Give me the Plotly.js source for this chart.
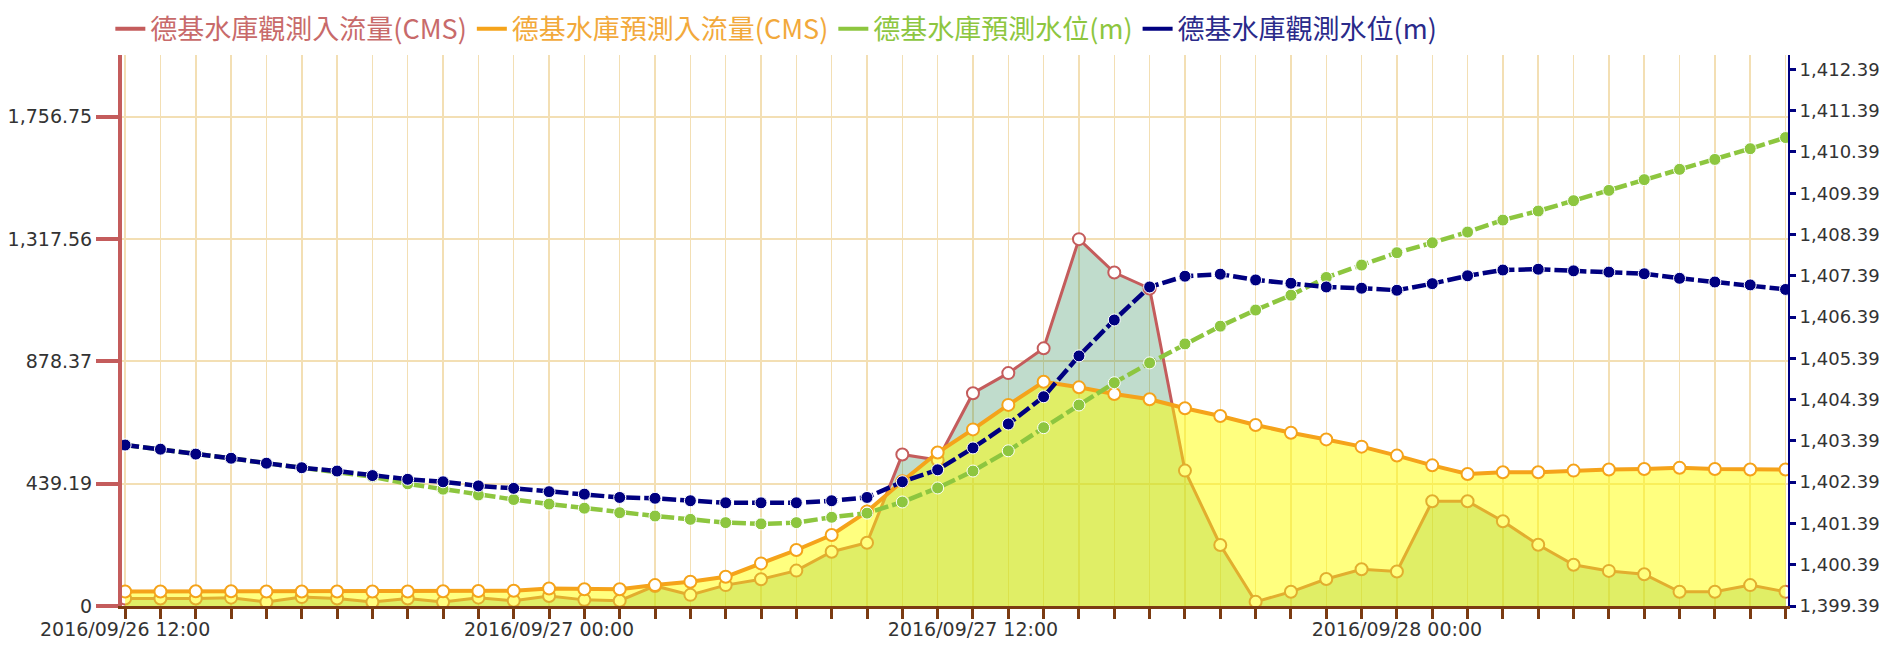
<!DOCTYPE html>
<html>
<head>
<meta charset="utf-8">
<script src="https://cdn.plot.ly/plotly-3.0.1.min.js"></script>
<style>
html,body{margin:0;padding:0;background:#ffffff;}
#chart{width:1880px;height:651px;}
</style>
</head>
<body>
<div id="chart"></div>
<script>
// Hourly time stamps (category axis)
const times = [
  '2016-09-26 12:00','2016-09-26 13:00','2016-09-26 14:00','2016-09-26 15:00','2016-09-26 16:00','2016-09-26 17:00',
  '2016-09-26 18:00','2016-09-26 19:00','2016-09-26 20:00','2016-09-26 21:00','2016-09-26 22:00','2016-09-26 23:00',
  '2016-09-27 00:00','2016-09-27 01:00','2016-09-27 02:00','2016-09-27 03:00','2016-09-27 04:00','2016-09-27 05:00',
  '2016-09-27 06:00','2016-09-27 07:00','2016-09-27 08:00','2016-09-27 09:00','2016-09-27 10:00','2016-09-27 11:00',
  '2016-09-27 12:00','2016-09-27 13:00','2016-09-27 14:00','2016-09-27 15:00','2016-09-27 16:00','2016-09-27 17:00',
  '2016-09-27 18:00','2016-09-27 19:00','2016-09-27 20:00','2016-09-27 21:00','2016-09-27 22:00','2016-09-27 23:00',
  '2016-09-28 00:00','2016-09-28 01:00','2016-09-28 02:00','2016-09-28 03:00','2016-09-28 04:00','2016-09-28 05:00',
  '2016-09-28 06:00','2016-09-28 07:00','2016-09-28 08:00','2016-09-28 09:00','2016-09-28 10:00','2016-09-28 11:00'
];

// 德基水庫觀測入流量 (CMS)
const observedInflow = [
  27, 27, 27, 30, 14, 32, 27, 14, 27, 14, 30,
  19, 36, 22, 19, 72, 40, 75, 96, 127, 195, 227,
  544, 524, 764, 836, 925, 1317, 1197, 1140, 486, 219, 15, 51, 97, 132,
  124, 376, 376, 304, 220, 148, 126, 114, 51, 51, 75, 51
];

// 德基水庫預測入流量 (CMS)
const predictedInflow = [
  52, 52, 53, 53, 52, 52, 52, 52, 52, 53, 54,
  55, 63, 60, 60, 75, 87, 105, 153, 201, 255, 339,
  448, 551, 634, 722, 805, 785, 761, 742, 710, 682, 650, 622, 598, 572,
  540, 505, 474, 480, 480, 486, 490, 492, 496, 492, 490, 490
];

// 德基水庫預測水位 (m)
const predictedLevel = [
  1403.29, 1403.19, 1403.07, 1402.97, 1402.85, 1402.74, 1402.65, 1402.52,
  1402.35, 1402.22, 1402.08,
  1401.97, 1401.86, 1401.76, 1401.65, 1401.57, 1401.49, 1401.41, 1401.38, 1401.41, 1401.54, 1401.64, 1401.91, 1402.25, 1402.66,
  1403.15, 1403.71, 1404.26, 1404.80, 1405.28, 1405.74, 1406.17, 1406.56, 1406.92, 1407.35, 1407.65,
  1407.95, 1408.19, 1408.45, 1408.74, 1408.96, 1409.21, 1409.46, 1409.72, 1409.97, 1410.21, 1410.47, 1410.74
];

// 德基水庫觀測水位 (m)
const observedLevel = [
  1403.29, 1403.19, 1403.07, 1402.97, 1402.85, 1402.74, 1402.66, 1402.55, 1402.46, 1402.40, 1402.30,
  1402.24, 1402.16, 1402.10, 1402.02, 1402.00, 1401.94, 1401.89, 1401.89, 1401.89, 1401.94, 1402.02, 1402.40, 1402.69, 1403.22,
  1403.80, 1404.46, 1405.45, 1406.32, 1407.12, 1407.38, 1407.43, 1407.29, 1407.21, 1407.12, 1407.09,
  1407.04, 1407.20, 1407.39, 1407.53, 1407.55, 1407.51, 1407.48, 1407.44, 1407.33, 1407.24, 1407.17, 1407.06
];

const inflowTicks = [0, 439.19, 878.37, 1317.56, 1756.75];
const inflowTickText = ['0', '439.19', '878.37', '1,317.56', '1,756.75'];
const levelTicks = [1399.39, 1400.39, 1401.39, 1402.39, 1403.39, 1404.39, 1405.39,
                    1406.39, 1407.39, 1408.39, 1409.39, 1410.39, 1411.39, 1412.39];
const levelTickText = ['1,399.39', '1,400.39', '1,401.39', '1,402.39', '1,403.39', '1,404.39', '1,405.39',
                       '1,406.39', '1,407.39', '1,408.39', '1,409.39', '1,410.39', '1,411.39', '1,412.39'];

const seriesNames = ['德基水庫觀測入流量(CMS)', '德基水庫預測入流量(CMS)', '德基水庫預測水位(m)', '德基水庫觀測水位(m)'];

const RED = '#c45c5c';
const ORANGE = '#f5a31a';
const GREEN = '#8dc63f';
const NAVY = '#000080';
const BROWN = '#7b3b12';
const GRID = '#f3dfb4';
const legendColors = ['#c86a6a', '#f2a93b', '#8dc63f', '#2a2a8a'];

const traces = [
  {
    x: times, y: observedInflow, yaxis: 'y', type: 'scatter', mode: 'lines+markers',
    fill: 'tozeroy', fillcolor: 'rgba(46,139,87,0.30)',
    line: {color: RED, width: 3},
    marker: {symbol: 'circle', size: 12, color: '#ffffff', line: {color: RED, width: 2}},
    showlegend: false, name: seriesNames[0]
  },
  {
    x: times, y: predictedInflow, yaxis: 'y', type: 'scatter', mode: 'lines+markers',
    fill: 'tozeroy', fillcolor: 'rgba(255,255,0,0.50)',
    line: {color: ORANGE, width: 4},
    marker: {symbol: 'circle', size: 12, color: '#ffffff', line: {color: ORANGE, width: 2}},
    showlegend: false, name: seriesNames[1]
  },
  {
    x: times, y: predictedLevel, yaxis: 'y2', type: 'scatter', mode: 'lines+markers',
    line: {color: GREEN, width: 4.5, dash: '14px,4px'},
    marker: {symbol: 'circle', size: 12, color: GREEN, line: {color: '#ffffff', width: 1}},
    showlegend: false, name: seriesNames[2]
  },
  {
    x: times, y: observedLevel, yaxis: 'y2', type: 'scatter', mode: 'lines+markers',
    line: {color: NAVY, width: 4.5, dash: '14px,4px'},
    marker: {symbol: 'circle', size: 12, color: NAVY, line: {color: '#ffffff', width: 1}},
    showlegend: false, name: seriesNames[3]
  }
];

// legend-only entries (short line symbol, coloured text)
const lineColors = [RED, ORANGE, GREEN, NAVY];
seriesNames.forEach((n, k) => {
  traces.push({
    x: [null], y: [null], type: 'scatter', mode: 'lines',
    line: {color: lineColors[k], width: 4},
    name: '<span style="color:' + legendColors[k] + '">' + n + '</span>',
    showlegend: true, hoverinfo: 'skip'
  });
});

const tickFont = {family: 'DejaVu Sans, Verdana, sans-serif', size: 19, color: '#333333'};
const rightTickFont = {family: 'DejaVu Sans, Verdana, sans-serif', size: 18, color: '#333333'};

const layout = {
  width: 1880, height: 651,
  margin: {l: 122, r: 92, t: 55, b: 45, pad: 0, autoexpand: false},
  paper_bgcolor: '#ffffff', plot_bgcolor: '#ffffff',
  showlegend: true,
  hovermode: false,
  legend: {
    orientation: 'h', x: -0.007, xanchor: 'left', y: 1.047, yanchor: 'middle',
    font: {family: 'Noto Sans CJK TC, Noto Sans CJK SC, sans-serif', size: 27, color: '#555'},
    bgcolor: 'rgba(0,0,0,0)', itemwidth: 30, traceorder: 'normal'
  },
  xaxis: {
    type: 'date',
    range: ['2016-09-26 11:54:43', '2016-09-28 11:04:12'],
    tick0: '2016-09-26 12:00', dtick: 43200000,
    tickformat: '%Y/%m/%d %H:%M',
    ticks: 'outside', ticklen: 10, tickwidth: 3, tickcolor: BROWN,
    showline: true, linecolor: BROWN, linewidth: 3,
    showgrid: true, gridcolor: GRID, gridwidth: 1.5,
    zeroline: false,
    minor: {tick0: '2016-09-26 12:00', dtick: 3600000, ticks: 'outside', ticklen: 10, tickwidth: 3,
            tickcolor: BROWN, showgrid: true, gridcolor: GRID, gridwidth: 1.5},
    tickfont: tickFont, ticklabelstandoff: -6,
    fixedrange: true
  },
  yaxis: {
    range: [0, 1978],
    tickmode: 'array', tickvals: inflowTicks, ticktext: inflowTickText,
    ticks: 'outside', ticklen: 22, tickwidth: 4, tickcolor: RED,
    showline: true, linecolor: RED, linewidth: 4,
    showgrid: true, gridcolor: GRID, gridwidth: 2,
    zeroline: false, tickfont: tickFont, fixedrange: true
  },
  yaxis2: {
    overlaying: 'y', side: 'right',
    range: [1399.39, 1412.74],
    tickmode: 'array', tickvals: levelTicks, ticktext: levelTickText,
    ticks: 'outside', ticklen: 6, tickwidth: 3, tickcolor: NAVY,
    showline: true, linecolor: NAVY, linewidth: 2,
    showgrid: false, zeroline: false, tickfont: rightTickFont, fixedrange: true
  }
};

Plotly.newPlot('chart', traces, layout, {displayModeBar: false, staticPlot: true});
</script>
</body>
</html>
